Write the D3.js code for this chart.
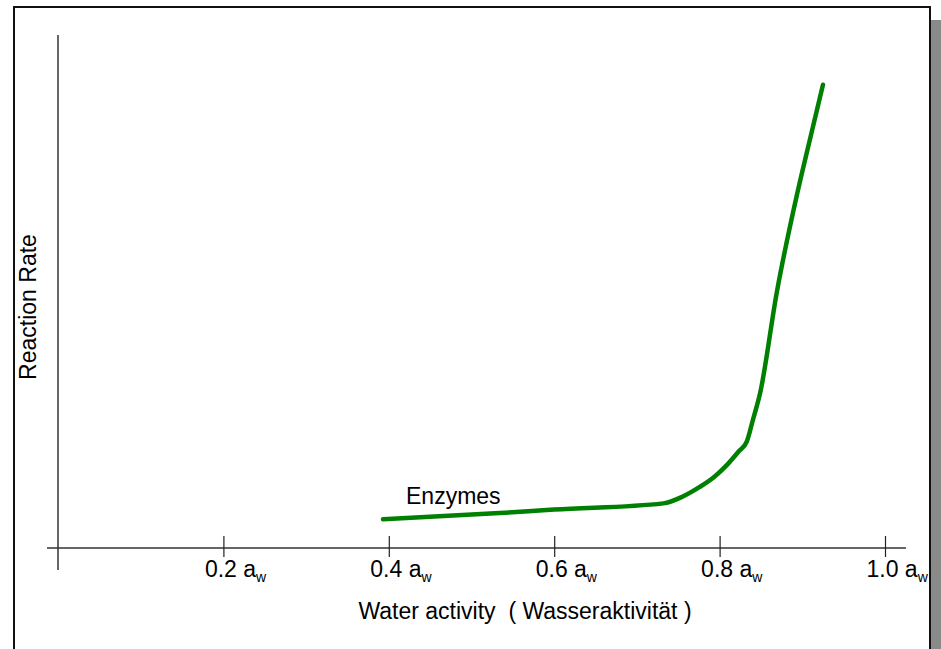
<!DOCTYPE html>
<html>
<head>
<meta charset="utf-8">
<script src="https://cdn.jsdelivr.net/npm/d3@7"></script>
<style>
  body { margin: 0; background: #fff; }
  svg { display: block; font-family: "Liberation Sans", Arial, sans-serif; }
  text { white-space: pre; }
</style>
</head>
<body>
<svg width="941" height="649"></svg>
<script>
// water activity (a_w) values
const activity = [0.393, 0.534, 0.60, 0.732, 0.755, 0.776, 0.793, 0.809, 0.823, 0.833, 0.840, 0.849, 0.869, 0.894, 0.909, 0.925];
// relative reaction rate (0 = x axis, 100 = top of y axis)
const rate     = [5.6,   6.8,   7.5,  8.7,   10.0,  11.9,  13.8,  16.2,  18.8,  20.8,  24.8,  30.2,  49.7,  69.2,  79.5,  90.3];
const tickValues = [0.2, 0.4, 0.6, 0.8, 1.0];
const tickLabels = ["0.2", "0.4", "0.6", "0.8", "1.0"];
const seriesName = "Enzymes";

const svg = d3.select("svg");
const fontSize = 23;

const x = d3.scaleLinear().domain([0, 1]).range([58, 885]);
const y = d3.scaleLinear().domain([0, 100]).range([548, 35]);

// shadow + frame
svg.append("rect").attr("x", 931).attr("y", 20).attr("width", 10).attr("height", 640).attr("fill", "#8a8a8a");
svg.append("rect").attr("x", 14).attr("y", 7).attr("width", 916).attr("height", 660)
  .attr("fill", "#fff").attr("stroke", "#111").attr("stroke-width", 2);

// y axis line
svg.append("line").attr("x1", x(0)).attr("x2", x(0)).attr("y1", 35).attr("y2", 570)
  .attr("stroke", "#000").attr("stroke-width", 1.2);

// x axis
svg.append("line").attr("x1", 47).attr("x2", 906).attr("y1", y(0)).attr("y2", y(0))
  .attr("stroke", "#333").attr("stroke-width", 1.5);

const xAxis = svg.append("g")
  .attr("transform", `translate(0,${y(0)})`)
  .call(d3.axisBottom(x).tickValues(tickValues).tickFormat((d, i) => tickLabels[i]));
xAxis.select(".domain").remove();
xAxis.selectAll(".tick line").attr("y1", -12).attr("y2", 9).attr("stroke", "#222").attr("stroke-width", 1.2);
xAxis.selectAll(".tick text").each(function(d, i) {
  const t = d3.select(this);
  t.text(null).attr("y", 29).attr("dy", null).attr("x", -19)
    .attr("text-anchor", "start").attr("font-size", fontSize).attr("fill", "#000")
    .attr("font-family", "Liberation Sans, Arial, sans-serif");
  t.append("tspan").text(tickLabels[i] + " a");
  t.append("tspan").attr("font-size", 14).attr("dy", 5).text("w");
});

// curve
const line = d3.line()
  .x((d, i) => x(activity[i]))
  .y(d => y(d))
  .curve(d3.curveMonotoneX);
svg.append("path").datum(rate).attr("d", line)
  .attr("fill", "none").attr("stroke", "#008000").attr("stroke-width", 4.5)
  .attr("stroke-linecap", "round").attr("stroke-linejoin", "round");

// series label
svg.append("text").attr("x", 406).attr("y", 504).attr("font-size", fontSize).text(seriesName);

// axis titles
svg.append("text").attr("x", 525).attr("y", 619).attr("text-anchor", "middle")
  .attr("font-size", fontSize).text("Water activity  ( Wasseraktivität )");
svg.append("text").attr("transform", "translate(36,307) rotate(-90)").attr("text-anchor", "middle")
  .attr("font-size", fontSize).text("Reaction Rate");
</script>
</body>
</html>
